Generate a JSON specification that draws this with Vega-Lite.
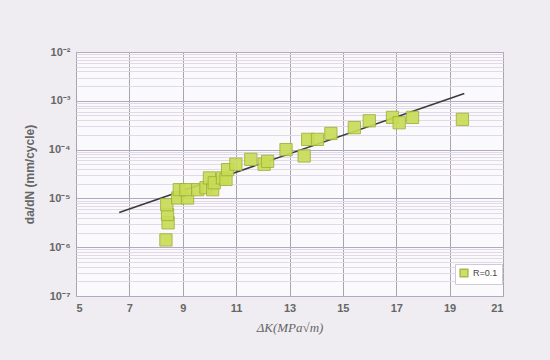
{
  "$schema": "https://vega.github.io/schema/vega-lite/v6.json",
  "autosize": {"type": "none"},
  "width": 427,
  "height": 244,
  "padding": {"left": 76, "top": 52, "right": 47, "bottom": 64},
  "background": "#efedf2",
  "config": {
    "font": "Liberation Sans",
    "view": {"stroke": "#b8b4bc", "fill": "#faf9fb"}
  },
  "datasets": {
    "points": [
      {"dK": 8.37, "rate": 1.41e-6, "series": "R=0.1"},
      {"dK": 8.45, "rate": 3.16e-6, "series": "R=0.1"},
      {"dK": 8.43, "rate": 4.68e-6, "series": "R=0.1"},
      {"dK": 8.40, "rate": 7.41e-6, "series": "R=0.1"},
      {"dK": 8.81, "rate": 1.02e-5, "series": "R=0.1"},
      {"dK": 9.18, "rate": 1.02e-5, "series": "R=0.1"},
      {"dK": 8.87, "rate": 1.51e-5, "series": "R=0.1"},
      {"dK": 9.12, "rate": 1.51e-5, "series": "R=0.1"},
      {"dK": 9.56, "rate": 1.51e-5, "series": "R=0.1"},
      {"dK": 9.87, "rate": 1.66e-5, "series": "R=0.1"},
      {"dK": 10.12, "rate": 1.51e-5, "series": "R=0.1"},
      {"dK": 10.0, "rate": 2.63e-5, "series": "R=0.1"},
      {"dK": 10.18, "rate": 2.09e-5, "series": "R=0.1"},
      {"dK": 10.49, "rate": 2.63e-5, "series": "R=0.1"},
      {"dK": 10.62, "rate": 2.45e-5, "series": "R=0.1"},
      {"dK": 10.68, "rate": 3.89e-5, "series": "R=0.1"},
      {"dK": 10.99, "rate": 5.01e-5, "series": "R=0.1"},
      {"dK": 11.55, "rate": 6.31e-5, "series": "R=0.1"},
      {"dK": 12.05, "rate": 5.01e-5, "series": "R=0.1"},
      {"dK": 12.18, "rate": 5.75e-5, "series": "R=0.1"},
      {"dK": 12.87, "rate": 1.0e-4, "series": "R=0.1"},
      {"dK": 13.55, "rate": 7.41e-5, "series": "R=0.1"},
      {"dK": 13.68, "rate": 1.62e-4, "series": "R=0.1"},
      {"dK": 14.05, "rate": 1.62e-4, "series": "R=0.1"},
      {"dK": 14.55, "rate": 2.14e-4, "series": "R=0.1"},
      {"dK": 15.43, "rate": 2.82e-4, "series": "R=0.1"},
      {"dK": 15.99, "rate": 3.89e-4, "series": "R=0.1"},
      {"dK": 16.86, "rate": 4.57e-4, "series": "R=0.1"},
      {"dK": 17.11, "rate": 3.55e-4, "series": "R=0.1"},
      {"dK": 17.61, "rate": 4.57e-4, "series": "R=0.1"},
      {"dK": 19.48, "rate": 4.17e-4, "series": "R=0.1"}
    ],
    "fit": [
      {"dK": 6.62, "rate": 5.13e-6},
      {"dK": 19.55, "rate": 1.41e-3}
    ]
  },
  "layer": [
    {
      "data": {"name": "fit"},
      "mark": {"type": "line", "color": "#3a3a3a", "strokeWidth": 1.5},
      "encoding": {
        "x": {
          "field": "dK", "type": "quantitative",
          "scale": {"domain": [5, 21], "nice": false, "zero": false},
          "axis": {
            "values": [5, 7, 9, 11, 13, 15, 17, 19, 21],
            "title": "ΔK(MPa√m)",
            "titleFont": "Liberation Serif",
            "titleFontStyle": "italic",
            "titleFontWeight": "normal",
            "titleFontSize": 13,
            "titleColor": "#666",
            "titlePadding": 8,
            "labelColor": "#666",
            "labelFontSize": 11,
            "labelFontWeight": "bold",
            "labelPadding": 6,
            "ticks": false,
            "domain": false,
            "gridColor": "#a9a3b0",
            "gridWidth": 1
          }
        },
        "y": {
          "field": "rate", "type": "quantitative",
          "scale": {"type": "log", "domain": [1e-7, 1e-2], "nice": false},
          "axis": {
            "values": [1e-7, 2e-7, 3e-7, 4e-7, 5e-7, 6e-7, 7e-7, 8e-7, 9e-7,
                       1e-6, 2e-6, 3e-6, 4e-6, 5e-6, 6e-6, 7e-6, 8e-6, 9e-6,
                       1e-5, 2e-5, 3e-5, 4e-5, 5e-5, 6e-5, 7e-5, 8e-5, 9e-5,
                       1e-4, 2e-4, 3e-4, 4e-4, 5e-4, 6e-4, 7e-4, 8e-4, 9e-4,
                       1e-3, 2e-3, 3e-3, 4e-3, 5e-3, 6e-3, 7e-3, 8e-3, 9e-3, 1e-2],
            "labelExpr": "abs(log(datum.value)/LN10 - round(log(datum.value)/LN10)) < 0.001 ? '10⁻' + substring('⁰¹²³⁴⁵⁶⁷⁸⁹', abs(round(log(datum.value)/LN10)), abs(round(log(datum.value)/LN10)) + 1) : ''",
            "title": "da/dN (mm/cycle)",
            "titleColor": "#666",
            "titleFontSize": 12,
            "titleFontWeight": "bold",
            "titlePadding": 12,
            "labelColor": "#666",
            "labelFontSize": 11,
            "labelFontWeight": "bold",
            "labelPadding": 6,
            "ticks": false,
            "domain": false,
            "gridColor": {
              "condition": {
                "test": "abs(log(datum.value)/LN10 - round(log(datum.value)/LN10)) < 0.001",
                "value": "#b3a9c2"
              },
              "value": "#e2d8e8"
            },
            "gridWidth": 1
          }
        }
      }
    },
    {
      "data": {"name": "points"},
      "mark": {"type": "square", "size": 150, "filled": true, "opacity": 0.9, "stroke": "#9fb33a", "strokeWidth": 1},
      "encoding": {
        "x": {"field": "dK", "type": "quantitative"},
        "y": {"field": "rate", "type": "quantitative"},
        "color": {
          "field": "series", "type": "nominal",
          "scale": {"range": ["#c9dc55"]},
          "legend": {
            "title": null,
            "orient": "none",
            "legendX": 379,
            "legendY": 212,
            "symbolType": "square",
            "symbolSize": 60,
            "symbolStrokeColor": "#9fb33a",
            "labelFontSize": 9,
            "labelColor": "#444",
            "fillColor": "#ffffff",
            "strokeColor": "#cfcbd4",
            "padding": 4
          }
        }
      }
    }
  ]
}
